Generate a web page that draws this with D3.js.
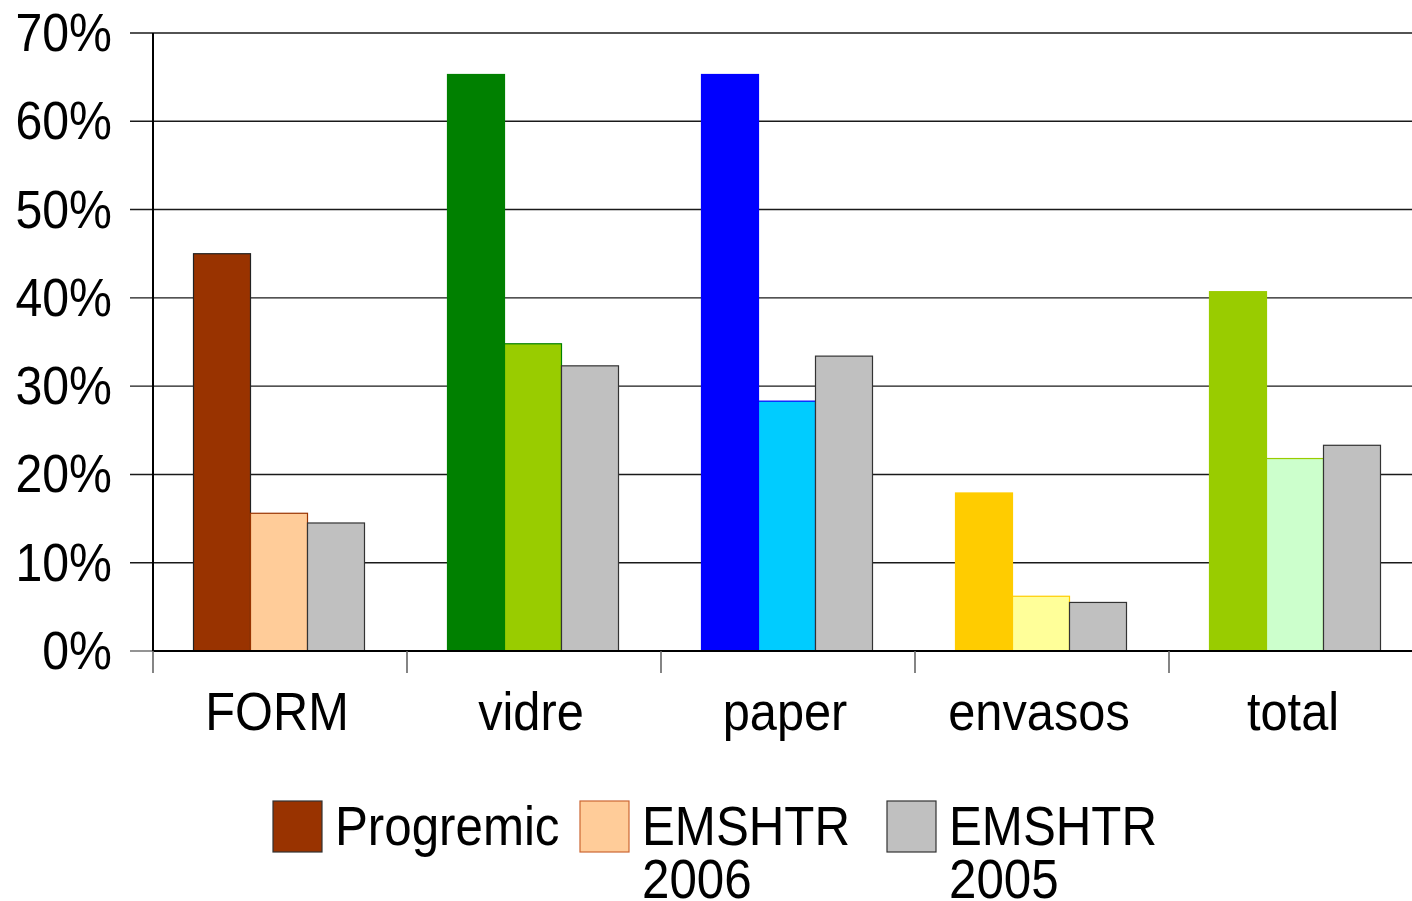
<!DOCTYPE html>
<html>
<head>
<meta charset="utf-8">
<script src="https://cdn.jsdelivr.net/npm/d3@7"></script>
<style>
  body { margin: 0; background: #fff; }
  svg { display: block; font-family: "Liberation Sans", Arial, sans-serif; }
</style>
</head>
<body>
<svg id="chart"></svg>
<script>
var categories = ["FORM", "vidre", "paper", "envasos", "total"];
var progremic = [45, 65.3, 65.3, 17.9, 40.7];
var emshtr2006 = [15.6, 34.8, 28.3, 6.2, 21.8];
var emshtr2005 = [14.5, 32.3, 33.4, 5.5, 23.3];
var seriesNames = [["Progremic"], ["EMSHTR", "2006"], ["EMSHTR", "2005"]];
var yTicks = [0, 10, 20, 30, 40, 50, 60, 70];

// per-category colours (the chart varies colours by point)
var fillProg = ["#993300", "#008000", "#0000ff", "#ffcc00", "#99cc00"];
var fill2006 = ["#ffcc99", "#99cc00", "#00ccff", "#ffff99", "#ccffcc"];
var fill2005 = "#c0c0c0";

var W = 1412, H = 901;
var svg = d3.select("#chart").attr("width", W).attr("height", H);

var x0 = 153, band = 254;
var x = d3.scaleBand()
  .domain(categories)
  .range([x0, x0 + band * categories.length]);

var y = d3.scaleLinear()
  .domain([0, 70])
  .range([651, 33]);

var barW = 57;
var groupOff = 40.5;

// gridlines
svg.append("g").selectAll("line")
  .data(yTicks.slice(1))
  .enter().append("line")
    .attr("x1", 130).attr("x2", W)
    .attr("y1", function(d) { return y(d); })
    .attr("y2", function(d) { return y(d); })
    .attr("stroke", "#1a1a1a")
    .attr("stroke-width", 1.4);

// tick at 0 left of axis
svg.append("line")
  .attr("x1", 130).attr("x2", x0)
  .attr("y1", y(0)).attr("y2", y(0))
  .attr("stroke", "#666").attr("stroke-width", 1.4);

// y labels
svg.append("g").selectAll("text")
  .data(yTicks)
  .enter().append("text")
    .attr("transform", function(d) { return "translate(112," + (y(d) + 18) + ") scale(0.91,1)"; })
    .attr("text-anchor", "end")
    .attr("font-size", 53)
    .attr("fill", "#000")
    .text(function(d) { return d + "%"; });

// bars
var rows = categories.map(function(c, i) {
  return [
    { cat: c, v: progremic[i], fill: fillProg[i], stroke: i === 0 ? "#222" : fillProg[i], k: 0 },
    { cat: c, v: emshtr2006[i], fill: fill2006[i], stroke: fillProg[i], k: 1 },
    { cat: c, v: emshtr2005[i], fill: fill2005, stroke: "#333", k: 2 }
  ];
});

svg.append("g").selectAll("rect")
  .data(d3.merge(rows))
  .enter().append("rect")
    .attr("x", function(d) { return x(d.cat) + groupOff + d.k * barW; })
    .attr("y", function(d) { return y(d.v); })
    .attr("width", barW)
    .attr("height", function(d) { return y(0) - y(d.v); })
    .attr("fill", function(d) { return d.fill; })
    .attr("stroke", function(d) { return d.stroke; })
    .attr("stroke-width", 1.2);

// axes lines
svg.append("line")
  .attr("x1", x0).attr("x2", x0)
  .attr("y1", y(70)).attr("y2", y(0))
  .attr("stroke", "#000").attr("stroke-width", 2);

svg.append("line")
  .attr("x1", x0).attr("x2", W)
  .attr("y1", y(0)).attr("y2", y(0))
  .attr("stroke", "#000").attr("stroke-width", 2.2);

// x ticks
svg.append("g").selectAll("line")
  .data(d3.range(categories.length + 1))
  .enter().append("line")
    .attr("x1", function(i) { return x0 + i * band; })
    .attr("x2", function(i) { return x0 + i * band; })
    .attr("y1", y(0)).attr("y2", 673)
    .attr("stroke", "#666").attr("stroke-width", 1.6);

// category labels
svg.append("g").selectAll("text")
  .data(categories)
  .enter().append("text")
    .attr("transform", function(d) { return "translate(" + (x(d) + band / 2 - 3) + ",730) scale(0.92,1)"; })
    .attr("text-anchor", "middle")
    .attr("font-size", 53)
    .attr("fill", "#000")
    .text(function(d) { return d; });

// legend
var legX = [273, 580, 887];
var legend = svg.append("g").selectAll("g")
  .data(seriesNames)
  .enter().append("g")
    .attr("transform", function(d, i) { return "translate(" + legX[i] + ",801)"; });

legend.append("rect")
  .attr("width", 49).attr("height", 51)
  .attr("fill", function(d, i) { return [fillProg[0], fill2006[0], fill2005][i]; })
  .attr("stroke", function(d, i) { return ["#333", "#cc6633", "#333"][i]; })
  .attr("stroke-width", 1.2);

legend.each(function(lines) {
  var g = d3.select(this);
  lines.forEach(function(line, j) {
    g.append("text")
      .attr("transform", "translate(62," + (44 + j * 53) + ") scale(0.88,1)")
      .attr("font-size", 56)
      .attr("fill", "#000")
      .text(line);
  });
});
</script>
</body>
</html>
